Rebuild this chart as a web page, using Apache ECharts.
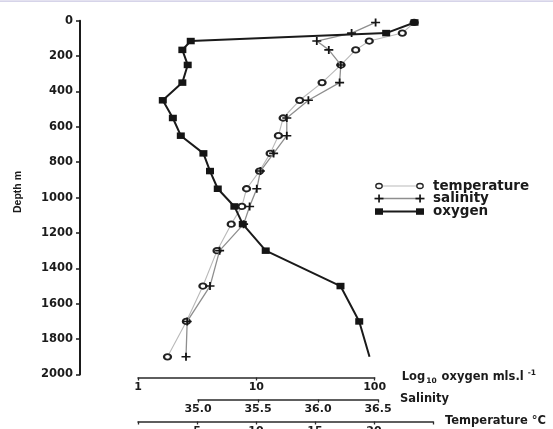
<!DOCTYPE html>
<html>
<head>
<meta charset="utf-8">
<script src="https://cdn.jsdelivr.net/npm/echarts@6/dist/echarts.min.js"></script>
<style>
  html, body { margin: 0; padding: 0; background: #fff; }
  #chart { width: 553px; height: 429px; }
</style>
</head>
<body>
<div id="chart"></div>
<script>
// Sampling depths (m) and the three profiles measured at each depth
const depth       = [10, 70, 115, 165, 250, 350, 450, 550, 650, 750, 850, 950, 1050, 1150, 1300, 1500, 1700, 1900];
const temperature = [23.4, 22.4, 19.6, 18.45, 17.2, 15.6, 13.7, 12.3, 11.9, 11.2, 10.3, 9.2, 8.8, 7.9, 6.7, 5.5, 4.1, 2.5];
const salinity    = [36.48, 36.28, 35.99, 36.09, 36.19, 36.18, 35.92, 35.74, 35.74, 35.63, 35.52, 35.49, 35.43, 35.38, 35.18, 35.10, 34.91, 34.90];
const oxygen      = [217, 125, 2.79, 2.37, 2.63, 2.37, 1.62, 1.97, 2.30, 3.57, 4.06, 4.72, 6.52, 7.68, 12.0, 51.4, 74.0, 90.4];

// Axis ranges and tick labels
const depthRange = [0, 2000];
const depthStep = 200;
const oxygenRange = [1, 100];
const salinityRange = [35.0, 36.5];
const salinityStep = 0.5;
const temperatureRange = [0, 25];
const temperatureStep = 5;
const temperatureLabels = [5, 10, 15, 20];

const FONT = 'DejaVu Sans';
const INK = '#1b1b1b';
const PLUS = 'path://M0,4L10,4L10,6L0,6Z M4,0L6,0L6,10L4,10Z';

// Layout: the plotting box and where each scale bar sits under it
const W = 553;
const plotTop = 20.7, plotBottom = 54.5;
const plotLeft = 80, plotRight = 433;
const oxyLeft = 138, oxyRight = 374.7;
const salLeft = 198, salRight = 378;
const tmpLeft = 138, tmpRight = 433;

// Hidden data axes span the whole plotting box; their extents are
// extended so that they line up with the shorter scale bars below.
const salPerPx = (salinityRange[1] - salinityRange[0]) / (salRight - salLeft);
const salExtent = [salinityRange[0] - (salLeft - plotLeft) * salPerPx,
                   salinityRange[1] + (plotRight - salRight) * salPerPx];
const tmpPerPx = (temperatureRange[1] - temperatureRange[0]) / (tmpRight - tmpLeft);
const tmpExtent = [temperatureRange[0] - (tmpLeft - plotLeft) * tmpPerPx,
                   temperatureRange[1] + (plotRight - tmpRight) * tmpPerPx];
const oxyDecades = Math.log10(oxygenRange[1] / oxygenRange[0]);
const oxyPerPx = oxyDecades / (oxyRight - oxyLeft);
const oxyExtent = [oxygenRange[0] * Math.pow(10, -(oxyLeft - plotLeft) * oxyPerPx),
                   oxygenRange[1] * Math.pow(10, (plotRight - oxyRight) * oxyPerPx)];

function depthAxis(gridIndex, visible) {
  return {
    gridIndex, type: 'value', inverse: true, position: 'left',
    min: depthRange[0], max: depthRange[1], interval: depthStep,
    show: visible,
    axisLine: { show: true, onZero: false, lineStyle: { color: INK, width: 2 } },
    axisTick: { show: true, length: 4, lineStyle: { color: INK, width: 1.5 } },
    axisLabel: { color: INK, fontFamily: FONT, fontWeight: 'bold', fontSize: 11.5, margin: 7, formatter: (v) => String(v) },
    splitLine: { show: false }
  };
}

const scaleBarBase = {
  position: 'bottom',
  axisLine: { show: true, onZero: false, lineStyle: { color: '#2a2a2a', width: 1.5 } },
  axisTick: { show: true, length: 3, lineStyle: { color: '#2a2a2a', width: 1.3 } },
  splitLine: { show: false },
  nameLocation: 'end'
};
const labelBase = { color: INK, fontFamily: FONT, fontWeight: 'bold', fontSize: 11, margin: 4 };
const nameBase = { color: INK, fontFamily: FONT, fontWeight: 'bold', fontSize: 11.5 };

const pairs = (xs) => xs.map((v, i) => [v, depth[i]]);
const oxygenData = oxygen.map((v, i) =>
  i === oxygen.length - 1 ? { value: [v, depth[i]], symbol: 'none' } : [v, depth[i]]);

const box = (left, right) => ({ left, right: W - right, top: plotTop, bottom: plotBottom, outerBoundsMode: 'none', containLabel: false });
const hiddenX = (type, extent) => ({
  gridIndex: 0, type, min: extent[0], max: extent[1], show: false,
  axisLine: { onZero: false }
});

const chart = echarts.init(document.getElementById('chart'));
chart.setOption({
  animation: false,
  backgroundColor: '#fff',
  grid: [
    box(plotLeft, plotRight),   // data + depth axis
    box(oxyLeft, oxyRight),     // oxygen scale bar
    box(salLeft, salRight),     // salinity scale bar
    box(tmpLeft, tmpRight)      // temperature scale bar
  ],
  xAxis: [
    Object.assign(hiddenX('log', oxyExtent), { logBase: 10 }),
    hiddenX('value', salExtent),
    hiddenX('value', tmpExtent),
    Object.assign({}, scaleBarBase, {
      gridIndex: 1, type: 'log', logBase: 10, min: oxygenRange[0], max: oxygenRange[1], offset: 3,
      axisLabel: labelBase,
      name: '{a|Log}{sub|10}{a| oxygen mls.l }{sup|-1}', nameGap: 27,
      nameTextStyle: Object.assign({}, nameBase, {
        rich: {
          a: { fontFamily: FONT, fontWeight: 'bold', fontSize: 11.5, color: INK, lineHeight: 16, verticalAlign: 'middle' },
          sub: { fontFamily: FONT, fontWeight: 'bold', fontSize: 7.5, color: INK, lineHeight: 16, verticalAlign: 'bottom', padding: [6, 1, 0, 1] },
          sup: { fontFamily: FONT, fontWeight: 'bold', fontSize: 7.5, color: INK, lineHeight: 16, verticalAlign: 'top', padding: [0, 0, 6, 0] }
        }
      })
    }),
    Object.assign({}, scaleBarBase, {
      gridIndex: 2, type: 'value', min: salinityRange[0], max: salinityRange[1], interval: salinityStep, offset: 25,
      axisLabel: Object.assign({}, labelBase, { formatter: (v) => v.toFixed(1) }),
      name: 'Salinity', nameGap: 22,
      nameTextStyle: Object.assign({}, nameBase, { padding: [0, 0, 5, 0] })
    }),
    Object.assign({}, scaleBarBase, {
      gridIndex: 3, type: 'value', min: temperatureRange[0], max: temperatureRange[1], interval: temperatureStep, offset: 47,
      axisLabel: Object.assign({}, labelBase, {
        formatter: (v) => temperatureLabels.indexOf(v) >= 0 ? String(v) : ''
      }),
      name: 'Temperature °C', nameGap: 12,
      nameTextStyle: Object.assign({}, nameBase, { padding: [13, 0, 0, 0] })
    })
  ],
  yAxis: [depthAxis(0, true), depthAxis(1, false), depthAxis(2, false), depthAxis(3, false)],
  series: [
    {
      name: 'temperature', type: 'line', xAxisIndex: 2, yAxisIndex: 0, clip: false, z: 2,
      data: pairs(temperature),
      symbol: 'emptyCircle', symbolSize: [7, 5.5], showAllSymbol: true,
      lineStyle: { color: '#b9b9b9', width: 1.1 },
      itemStyle: { color: '#222', borderColor: '#222', borderWidth: 1.3 }
    },
    {
      name: 'salinity', type: 'line', xAxisIndex: 1, yAxisIndex: 0, clip: false, z: 3,
      data: pairs(salinity),
      symbol: PLUS, symbolSize: [9, 8], showAllSymbol: true,
      lineStyle: { color: '#8e8e8e', width: 1.3 },
      itemStyle: { color: '#151515' }
    },
    {
      name: 'oxygen', type: 'line', xAxisIndex: 0, yAxisIndex: 0, clip: false, z: 4,
      data: oxygenData,
      symbol: 'rect', symbolSize: [8, 6.5], showAllSymbol: true,
      lineStyle: { color: '#1a1a1a', width: 2 },
      itemStyle: { color: '#151515' }
    }
  ],
  graphic: [
    // thin rule along the top edge
    { type: 'rect', shape: { x: 0, y: 0.5, width: W, height: 1.2 }, style: { fill: '#c9c6e2' }, silent: true },
    // depth axis title
    {
      type: 'text', x: 18, y: 192, rotation: Math.PI / 2,
      style: { text: 'Depth m', fill: INK, font: 'bold 10.5px "Liberation Sans"', align: 'center', verticalAlign: 'middle' }
    },
    // legend: temperature
    { type: 'line', shape: { x1: 379, y1: 186, x2: 420, y2: 186 }, style: { stroke: '#b9b9b9', lineWidth: 1.1 } },
    { type: 'ellipse', shape: { cx: 379, cy: 186, rx: 3.2, ry: 2.5 }, style: { fill: '#fff', stroke: '#222', lineWidth: 1.3 } },
    { type: 'ellipse', shape: { cx: 420, cy: 186, rx: 3.2, ry: 2.5 }, style: { fill: '#fff', stroke: '#222', lineWidth: 1.3 } },
    { type: 'text', x: 433, y: 186, style: { text: 'temperature', fill: INK, font: 'bold 13.5px "DejaVu Sans"', verticalAlign: 'middle' } },
    // legend: salinity
    { type: 'line', shape: { x1: 379, y1: 198.5, x2: 420, y2: 198.5 }, style: { stroke: '#8e8e8e', lineWidth: 1.3 } },
    { type: 'rect', shape: { x: 374.5, y: 197.7, width: 9, height: 1.7 }, style: { fill: '#151515' } },
    { type: 'rect', shape: { x: 378.2, y: 194.5, width: 1.7, height: 8 }, style: { fill: '#151515' } },
    { type: 'rect', shape: { x: 415.5, y: 197.7, width: 9, height: 1.7 }, style: { fill: '#151515' } },
    { type: 'rect', shape: { x: 419.2, y: 194.5, width: 1.7, height: 8 }, style: { fill: '#151515' } },
    { type: 'text', x: 433, y: 198.5, style: { text: 'salinity', fill: INK, font: 'bold 13.5px "DejaVu Sans"', verticalAlign: 'middle' } },
    // legend: oxygen
    { type: 'line', shape: { x1: 379, y1: 211.5, x2: 420, y2: 211.5 }, style: { stroke: '#1a1a1a', lineWidth: 2 } },
    { type: 'rect', shape: { x: 375, y: 208.3, width: 8, height: 6.5 }, style: { fill: '#151515' } },
    { type: 'rect', shape: { x: 416, y: 208.3, width: 8, height: 6.5 }, style: { fill: '#151515' } },
    { type: 'text', x: 433, y: 211.5, style: { text: 'oxygen', fill: INK, font: 'bold 13.5px "DejaVu Sans"', verticalAlign: 'middle' } }
  ]
});
</script>
</body>
</html>
